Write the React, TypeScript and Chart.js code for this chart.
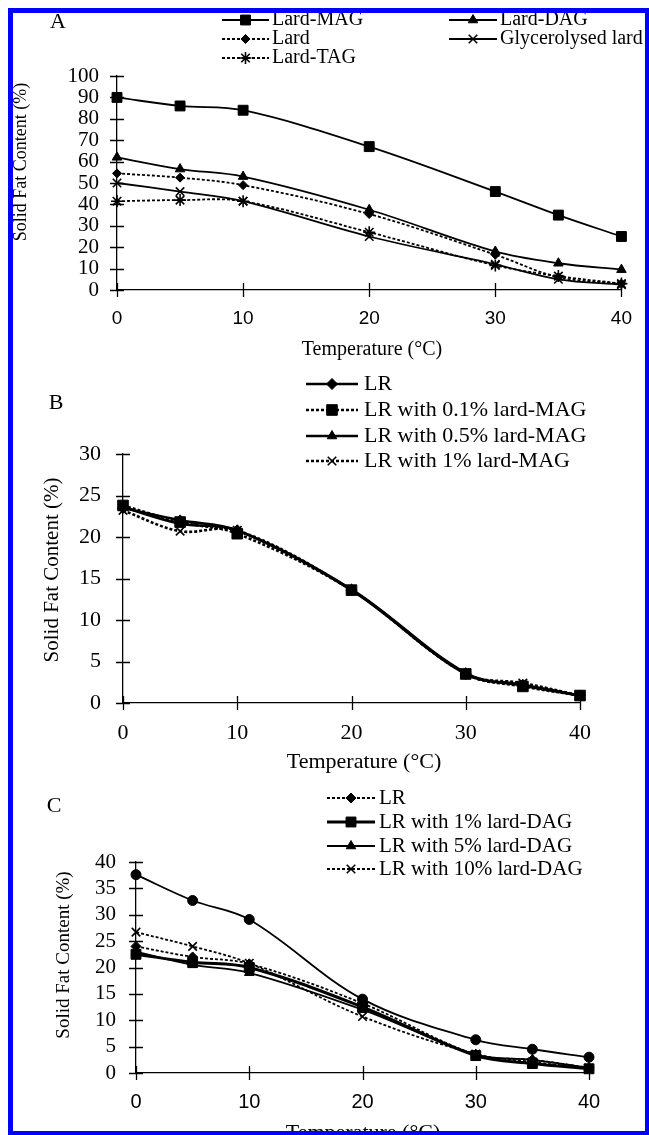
import React, { useEffect, useRef } from 'react';
import { Chart, registerables } from 'chart.js';
import { drawPoint } from 'chart.js/helpers';
Chart.register(...registerables);

const temps = [0, 5, 10, 20, 30, 35, 40];

// Panel A
const aLabels = ['Lard-MAG', 'Lard-DAG', 'Lard', 'Glycerolysed lard', 'Lard-TAG'];
const lardMAG = [90, 86, 84, 67, 46, 35, 25];
const lardDAG = [62, 56.5, 53, 37.5, 18, 12.5, 9.5];
const lard = [54.5, 52.5, 49, 35.5, 16.5, 6, 3];
const glycerolysedLard = [50, 46, 41.5, 25, 12, 5, 2.5];
const lardTAG = [41.5, 42, 41.5, 27, 11.5, 6.5, 3];

// Panel B
const bLabels = ['LR', 'LR with 0.1% lard-MAG', 'LR with 0.5% lard-MAG', 'LR with 1% lard-MAG'];
const bLR = [23.5, 22, 20.8, 13.6, 3.5, 2.2, 0.9];
const bMAG01 = [23.8, 21.8, 20.4, 13.6, 3.5, 2.0, 0.9];
const bMAG05 = [23.6, 21.6, 20.8, 13.7, 3.6, 2.1, 0.9];
const bMAG1 = [23.2, 20.7, 20.8, 13.6, 3.5, 2.4, 0.9];

// Panel C
const cLabels = ['LR', 'LR with 1% lard-DAG', 'LR with 5% lard-DAG', 'LR with 10% lard-DAG'];
const cLR = [24, 22, 20.7, 13.2, 3.5, 2.5, 1];
const cDAG1 = [22.5, 21, 20, 12.5, 3.3, 1.8, 0.8];
const cDAG5 = [23, 20.5, 19, 12, 3.5, 2.5, 1];
const cDAG10 = [26.7, 24, 20.8, 10.7, 3.6, 2.1, 0.9];
const cExtra = [37.6, 32.7, 29.1, 14, 6.3, 4.5, 3];

const xTitle = 'Temperature (°C)';
const yTitle = 'Solid Fat Content (%)';

const SERIF = "'Liberation Serif', 'Times New Roman', serif";
const SANS = "'Liberation Sans', Arial, sans-serif";
const INK = '#000';
const W = 649;

type S = { label: string; data: number[]; dash: number[]; width: number; style: string; radius: number; bw: number };
type LegendItem = { s: number; x1: number; x2: number; y: number; tx: number };
type TextItem = { text: string; x: number; y: number; size: number; rot?: boolean };

type Panel = {
  top: number; height: number;
  axisL: number; axisR: number; yTop: number; yBot: number;
  ymax: number; ystep: number;
  series: S[];
  legend: LegendItem[]; legendSize: number;
  texts: TextItem[];
  yTick: { size: number; pad: number }; xTick: { size: number; pad: number; family: string };
  tickLen: number;
};

const ser = (label: string, data: number[], dashed: boolean, width: number, style: string, radius: number, bw = 1): S =>
  ({ label, data, dash: dashed ? [3, 2] : [], width, style, radius, bw });

const panels: Panel[] = [
  {
    top: 0, height: 370, axisL: 117, axisR: 627, yTop: 76, yBot: 290, ymax: 100, ystep: 10,
    series: [
      ser(aLabels[0], lardMAG, false, 1.8, 'rect', 7, 1),
      ser(aLabels[1], lardDAG, false, 1.8, 'triangle', 5.5, 1),
      ser(aLabels[2], lard, true, 1.8, 'rectRot', 4.5, 1),
      ser(aLabels[3], glycerolysedLard, false, 1.8, 'crossRot', 6, 1.6),
      ser(aLabels[4], lardTAG, true, 1.8, 'star', 6, 1.6),
    ],
    legend: [
      { s: 0, x1: 222, x2: 269, y: 20, tx: 272 },
      { s: 1, x1: 449, x2: 497, y: 20, tx: 500 },
      { s: 2, x1: 222, x2: 269, y: 39, tx: 272 },
      { s: 3, x1: 449, x2: 497, y: 39, tx: 500 },
      { s: 4, x1: 222, x2: 269, y: 58, tx: 272 },
    ],
    legendSize: 20,
    texts: [
      { text: 'A', x: 58, y: 22, size: 22 },
      { text: xTitle, x: 372, y: 350, size: 20 },
      { text: yTitle, x: 21, y: 162, size: 18, rot: true },
    ],
    yTick: { size: 21, pad: 18 }, xTick: { size: 19, pad: 17, family: SANS }, tickLen: 7,
  },
  {
    top: 370, height: 410, axisL: 123, axisR: 580, yTop: 454, yBot: 703, ymax: 30, ystep: 5,
    series: [
      ser(bLabels[0], bLR, false, 2.6, 'rectRot', 5.5, 1),
      ser(bLabels[1], bMAG01, true, 2.6, 'rect', 7.5, 1),
      ser(bLabels[2], bMAG05, false, 2.6, 'triangle', 5.5, 1),
      ser(bLabels[3], bMAG1, true, 2.6, 'crossRot', 6, 1.6),
    ],
    legend: [
      { s: 0, x1: 306, x2: 358, y: 384, tx: 364 },
      { s: 1, x1: 306, x2: 358, y: 410, tx: 364 },
      { s: 2, x1: 306, x2: 358, y: 436, tx: 364 },
      { s: 3, x1: 306, x2: 358, y: 461, tx: 364 },
    ],
    legendSize: 22,
    texts: [
      { text: 'B', x: 56, y: 403, size: 22 },
      { text: xTitle, x: 364, y: 762, size: 22 },
      { text: yTitle, x: 52, y: 570, size: 21, rot: true },
    ],
    yTick: { size: 22, pad: 22 }, xTick: { size: 22, pad: 17, family: SERIF }, tickLen: 7,
  },
  {
    top: 780, height: 355, axisL: 136, axisR: 589, yTop: 862, yBot: 1073, ymax: 40, ystep: 5,
    series: [
      ser(cLabels[0], cLR, true, 1.8, 'rectRot', 5, 1),
      ser(cLabels[1], cDAG1, false, 3, 'rect', 7, 1),
      ser(cLabels[2], cDAG5, false, 1.8, 'triangle', 5.5, 1),
      ser(cLabels[3], cDAG10, true, 1.8, 'crossRot', 6, 1.6),
      ser('', cExtra, false, 1.8, 'circle', 5, 1),
    ],
    legend: [
      { s: 0, x1: 327, x2: 375, y: 798, tx: 379 },
      { s: 1, x1: 327, x2: 375, y: 822, tx: 379 },
      { s: 2, x1: 327, x2: 375, y: 846, tx: 379 },
      { s: 3, x1: 327, x2: 375, y: 869, tx: 379 },
    ],
    legendSize: 21,
    texts: [
      { text: 'C', x: 54, y: 806, size: 22 },
      { text: xTitle, x: 363, y: 1133, size: 22 },
      { text: yTitle, x: 64, y: 955, size: 19, rot: true },
    ],
    yTick: { size: 21, pad: 20 }, xTick: { size: 20, pad: 17, family: SANS }, tickLen: 7,
  },
];

function makeChart(canvas: HTMLCanvasElement, p: Panel) {
  const xAxisH = p.height - (p.yBot - p.top);
  const decor = {
    id: 'decor',
    beforeDatasetsDraw(chart: any) {
      const ctx = chart.ctx;
      const xs = chart.scales.x, ys = chart.scales.y;
      const area = chart.chartArea;
      ctx.save();
      ctx.strokeStyle = INK;
      ctx.lineWidth = 1.3;
      ctx.beginPath();
      ys.ticks.forEach((_t: any, i: number) => {
        const py = Math.round(ys.getPixelForTick(i)) + 0.5;
        ctx.moveTo(area.left - p.tickLen, py);
        ctx.lineTo(area.left + p.tickLen, py);
      });
      xs.ticks.forEach((_t: any, i: number) => {
        const px = Math.round(xs.getPixelForTick(i)) + 0.5;
        ctx.moveTo(px, area.bottom - p.tickLen);
        ctx.lineTo(px, area.bottom + p.tickLen);
      });
      ctx.stroke();
      ctx.restore();
    },
    afterDraw(chart: any) {
      const ctx = chart.ctx;
      ctx.save();
      ctx.fillStyle = INK;
      ctx.textBaseline = 'middle';
      p.texts.forEach((t) => {
        ctx.save();
        ctx.font = `${t.size}px ${SERIF}`;
        ctx.textAlign = 'center';
        ctx.translate(t.x, t.y - p.top);
        if (t.rot) ctx.rotate(-Math.PI / 2);
        ctx.fillText(t.text, 0, 0);
        ctx.restore();
      });
      p.legend.forEach((l) => {
        const s = p.series[l.s];
        const y = l.y - p.top;
        ctx.save();
        ctx.strokeStyle = INK;
        ctx.fillStyle = INK;
        ctx.lineWidth = s.width;
        ctx.setLineDash(s.dash);
        ctx.beginPath();
        ctx.moveTo(l.x1, y);
        ctx.lineTo(l.x2, y);
        ctx.stroke();
        ctx.setLineDash([]);
        ctx.lineWidth = s.bw;
        drawPoint(ctx, { pointStyle: s.style, radius: s.radius, borderWidth: s.bw, rotation: 0 } as any, (l.x1 + l.x2) / 2, y);
        ctx.font = `${p.legendSize}px ${SERIF}`;
        ctx.textAlign = 'left';
        ctx.textBaseline = 'middle';
        ctx.fillText(s.label, l.tx, y);
        ctx.restore();
      });
      ctx.restore();
    },
  };

  return new Chart(canvas, {
    type: 'scatter',
    data: {
      datasets: p.series.map((s) => ({
        label: s.label,
        data: temps.map((t, i) => ({ x: t, y: s.data[i] })),
        showLine: true,
        borderColor: INK,
        backgroundColor: INK,
        borderWidth: s.width,
        borderDash: s.dash,
        tension: 0.35,
        pointStyle: s.style as any,
        pointRadius: s.radius,
        pointHoverRadius: s.radius,
        pointBorderWidth: s.bw,
        pointBorderColor: INK,
        pointBackgroundColor: INK,
        clip: false as any,
      })),
    },
    options: {
      responsive: false,
      animation: false,
      devicePixelRatio: 1,
      layout: { padding: { left: 0, right: W - p.axisR, top: p.yTop - p.top, bottom: 0 } },
      plugins: { legend: { display: false }, tooltip: { enabled: false } },
      scales: {
        x: {
          type: 'linear', min: 0, max: 40,
          grid: { display: false, drawTicks: false, tickLength: 0 },
          border: { display: true, color: INK, width: 1.3 },
          ticks: { stepSize: 10, autoSkip: false, color: INK, padding: p.xTick.pad, font: { family: p.xTick.family, size: p.xTick.size }, maxRotation: 0 },
          afterFit: (sc: any) => { sc.height = xAxisH; },
        },
        y: {
          type: 'linear', min: 0, max: p.ymax,
          grid: { display: false, drawTicks: false, tickLength: 0 },
          border: { display: true, color: INK, width: 1.3 },
          ticks: { stepSize: p.ystep, autoSkip: false, color: INK, padding: p.yTick.pad, font: { family: SERIF, size: p.yTick.size } },
          afterFit: (sc: any) => { sc.width = p.axisL; },
        },
      },
    },
    plugins: [decor],
  } as any);
}

function PanelCanvas({ p }: { p: Panel }) {
  const ref = useRef<HTMLCanvasElement | null>(null);
  useEffect(() => {
    if (!ref.current) return;
    const c = makeChart(ref.current, p);
    return () => c.destroy();
  }, [p]);
  return (
    <canvas
      ref={ref}
      width={W}
      height={p.height}
      style={{ position: 'absolute', left: 0, top: p.top, width: W, height: p.height }}
    />
  );
}

export default function App() {
  return (
    <div style={{ position: 'fixed', left: 0, top: 0, width: W, height: 1135, overflow: 'hidden', background: '#fff' }}>
      {panels.map((p, i) => (
        <PanelCanvas key={i} p={p} />
      ))}
      <div
        style={{
          position: 'absolute', left: 8, top: 8, width: 642, height: 1128,
          boxSizing: 'border-box', border: '5px solid #0000ff', pointerEvents: 'none',
        }}
      />
    </div>
  );
}
